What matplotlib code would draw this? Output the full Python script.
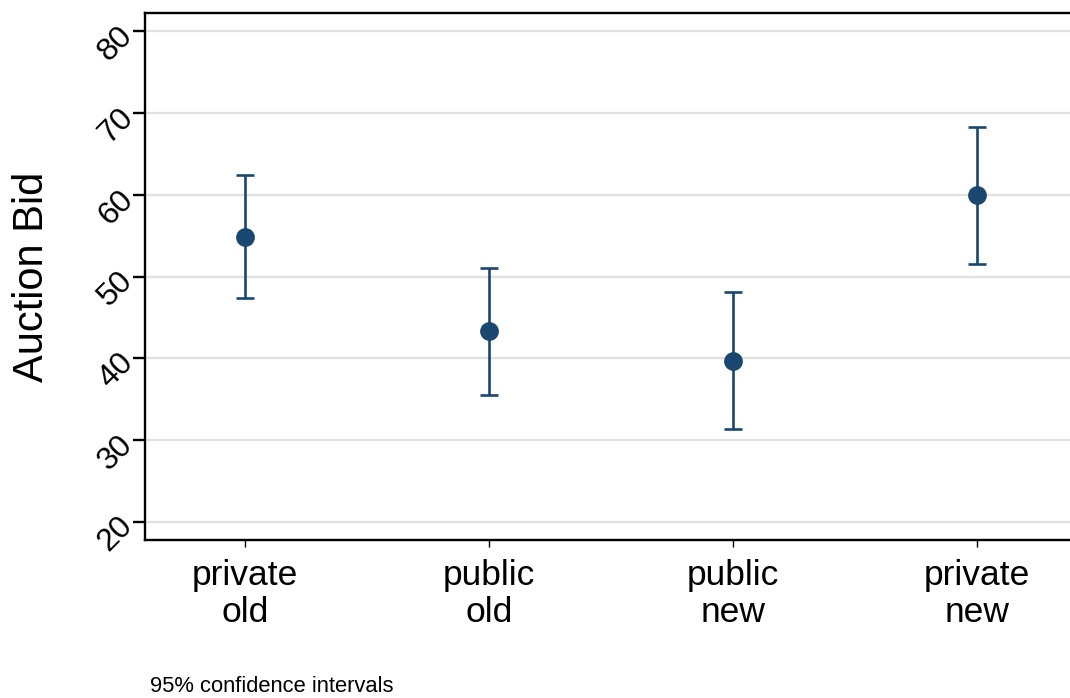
import matplotlib
matplotlib.use("Agg")
import matplotlib.pyplot as plt

plt.rcParams['font.family'] = ['Liberation Sans', 'DejaVu Sans']

categories = ["private\nold", "public\nold", "public\nnew", "private\nnew"]
means = [54.85, 43.34, 39.67, 59.99]
ci_upper = [62.44, 51.05, 48.12, 68.31]
ci_lower = [47.38, 35.50, 31.35, 51.54]
yticks = [20, 30, 40, 50, 60, 70, 80]

navy = "#1a476f"

fig = plt.figure(figsize=(10.70, 6.98), dpi=100)
ax = fig.add_axes([145 / 1070, 1 - 540 / 698, 1 - 145 / 1070, (540 - 13) / 698])

x = list(range(1, len(categories) + 1))
err_low = [m - lo for m, lo in zip(means, ci_lower)]
err_high = [hi - m for m, hi in zip(means, ci_upper)]
ax.errorbar(x, means, yerr=[err_low, err_high], fmt="o", color=navy,
            ecolor=navy, elinewidth=1.9, capsize=6.5, capthick=1.9,
            markersize=12.5, zorder=3)

ax.set_xlim(0.59, 4.38)
ax.set_ylim(17.74, 82.26)
ax.set_yticks(yticks)
ax.set_yticklabels([str(t) for t in yticks], rotation=45, fontsize=23,
                   va="center", ha="right", rotation_mode="anchor")
ax.set_xticks(x)
ax.set_xticklabels(categories, fontsize=25.5, linespacing=1.17)

ax.yaxis.grid(True, color="#e1e1e1", linewidth=1.6, zorder=0)
ax.set_axisbelow(True)

for side in ("left", "bottom", "top"):
    ax.spines[side].set_linewidth(1.7)
    ax.spines[side].set_color("black")
ax.spines["right"].set_visible(False)

ax.tick_params(axis="y", length=9, width=1.7, pad=3)
ax.tick_params(axis="x", length=5, width=1.0, pad=8.5)

ax.set_ylabel("Auction Bid", fontsize=30)
ax.yaxis.set_label_coords((52 - 145) / 925, 0.5)

fig.text(150 / 1070, 1 - 692 / 698, "95% confidence intervals", fontsize=15.8,
         ha="left", va="baseline")

fig.savefig("out.png", dpi=100)
